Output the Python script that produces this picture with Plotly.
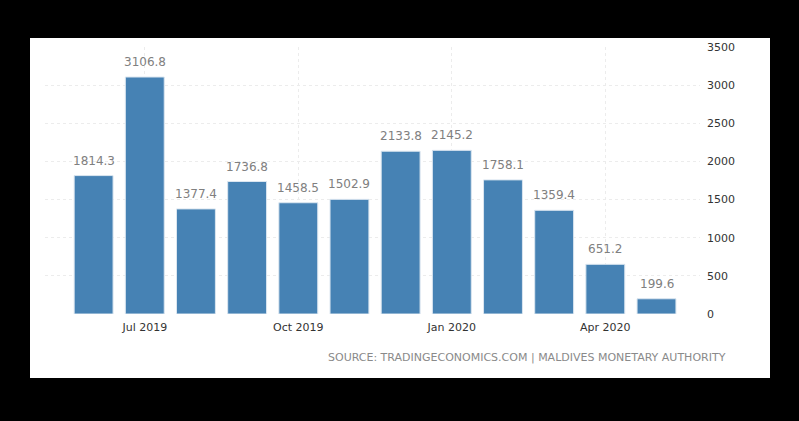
import plotly.graph_objects as go

# monthly values, Jun 2019 - May 2020
months = ["Jun 2019", "Jul 2019", "Aug 2019", "Sep 2019", "Oct 2019", "Nov 2019",
          "Dec 2019", "Jan 2020", "Feb 2020", "Mar 2020", "Apr 2020", "May 2020"]
values = [1814.3, 3106.8, 1377.4, 1736.8, 1458.5, 1502.9,
          2133.8, 2145.2, 1758.1, 1359.4, 651.2, 199.6]
tick_labels = ["Jul 2019", "Oct 2019", "Jan 2020", "Apr 2020"]
y_ticks = [0, 500, 1000, 1500, 2000, 2500, 3000, 3500]

x_idx = list(range(len(months)))
tick_pos = [months.index(t) for t in tick_labels]

# plot area in pixels (used to place the white card)
L, R, T, B = 45, 700, 47, 314
W, H = 799, 421


def px_x(p):
    return (p - L) / (R - L)


def px_y(p):
    return (B - p) / (B - T)


fig = go.Figure()
fig.add_trace(go.Bar(
    x=x_idx, y=values,
    width=0.76,
    marker=dict(color="#4682b4", line=dict(width=1, color="#dbe6f0")),
    hovertext=months,
))

# value labels sit a few pixels above each bar
labels = [dict(x=i, y=v, text="{:.1f}".format(v), xref="x", yref="y",
               yanchor="bottom", yshift=6, showarrow=False,
               font=dict(color="#808080", size=12, family="DejaVu Sans"))
          for i, v in zip(x_idx, values)]

fig.update_layout(
    width=W, height=H,
    margin=dict(l=L, r=W - R, t=T, b=H - B),
    paper_bgcolor="black",
    plot_bgcolor="white",
    showlegend=False,
    font=dict(family="DejaVu Sans", size=11, color="#333333"),
    shapes=[dict(type="rect", xref="paper", yref="paper", layer="below",
                 x0=px_x(30), x1=px_x(770), y0=px_y(378), y1=px_y(38),
                 fillcolor="white", line=dict(width=0))],
    annotations=labels + [dict(text="SOURCE: TRADINGECONOMICS.COM | MALDIVES MONETARY AUTHORITY",
                               xref="paper", yref="paper", x=px_x(728), y=px_y(357),
                               xanchor="right", yanchor="middle", showarrow=False,
                               font=dict(color="#8a8a8a", size=11, family="DejaVu Sans"))],
)
fig.update_xaxes(range=[-0.95, 11.85], tickvals=tick_pos, ticktext=tick_labels,
                 showgrid=True, gridcolor="#ececec", griddash="dot",
                 zeroline=False, showline=False, ticks="", ticklabelstandoff=5)
fig.update_yaxes(side="right", range=[0, 3500], tickvals=y_ticks,
                 showgrid=True, gridcolor="#ececec", griddash="dot",
                 zeroline=False, showline=False, ticks="", ticklabelstandoff=6)

# page has a default body margin; drop it so the black frame reaches the edges
fig.write_html("out.html", config={"displayModeBar": False},
               post_script="document.body.style.margin='0';")
